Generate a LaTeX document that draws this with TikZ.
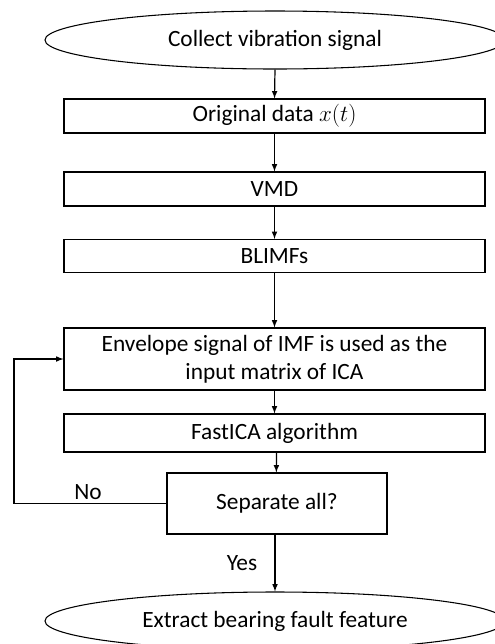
\documentclass[tikz,border=0pt]{standalone}
\usepackage{fontspec}
\setmainfont{Carlito}
\usetikzlibrary{shapes}

\begin{document}
\begin{tikzpicture}[x=0.75pt,y=-0.75pt]
        \tikzstyle{every path}=[line width=0.8pt]

        \edef\widthbox{315.75pt}
        \tikzstyle{step box}=[draw,rectangle,minimum width=\widthbox,inner sep=0pt,font=\fontsize{17.5}{21}\selectfont]
        \tikzstyle{term}=[draw,ellipse,minimum width=345pt,minimum height=43.5pt,inner sep=0pt,font=\fontsize{17.5}{21}\selectfont]
        \tikzstyle{lbl}=[draw=none,font=\fontsize{17.5}{21}\selectfont]
        \tikzstyle{flow}=[-latex,line width=0.9pt]

        \useasboundingbox (0,0) rectangle (494,644);

        \node [term] (collect) at (275,40) {Collect vibration signal};
        \node [step box,minimum height=25.5pt] (orig) at (274.5,116) {Original data $x(t)$};
        \node [step box,minimum height=25.5pt] (vmd) at (274.5,189) {VMD};
        \node [step box,minimum height=24.75pt] (blimf) at (274.5,256) {BLIMFs};
        \node [step box,minimum height=46.5pt,align=center] (env) at (274.5,359)
            {Envelope signal of IMF is used as the\\input matrix of ICA};
        \node [step box,minimum height=28.5pt] (fast) at (274.5,433) {FastICA algorithm};
        \node [step box,minimum width=165pt,minimum height=45.75pt] (sep) at (277,503.5) {Separate all?};
        \node [term] (extract) at (275,621) {Extract bearing fault feature};

        \coordinate (loop) at (14,503.5);

        \draw[flow] (collect.south) to (orig.north);   % collect->orig
        \draw[flow] (orig.south) to (vmd.north);       % orig->vmd
        \draw[flow] (vmd.south) to (blimf.north);      % vmd->blimf
        \draw[flow] (blimf.south) to (env.north);      % blimf->env
        \draw[flow] (env.south) to (fast.north);       % env->fast
        \draw[flow] ([xshift=1.5pt]fast.south) to ([xshift=-0.5pt]sep.north);  % fast->sep
        \draw[flow] ([xshift=-1.5pt]sep.south) to (extract.north);  % sep->extract (yes)
        \draw[flow] (sep.west) -- (loop) |- (env.west);  % sep->env (no)

        \node [lbl] (no) at (88,492) {No};
        \node [lbl] (yes) at (242,563) {Yes};

\end{tikzpicture}
\end{document}
